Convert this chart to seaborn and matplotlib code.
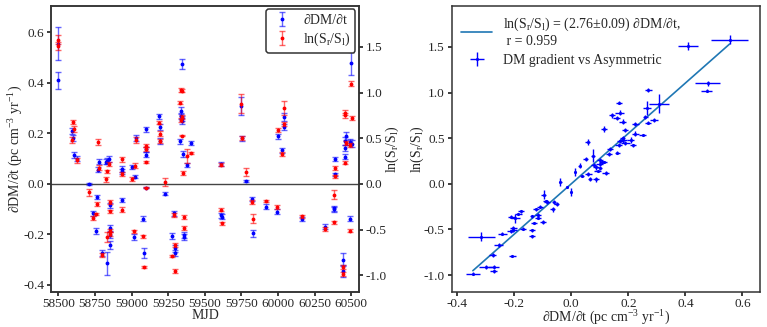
import numpy as np
import pandas as pd
import matplotlib
matplotlib.use("Agg")
import matplotlib.pyplot as plt
import seaborn as sns

# ---- data ----
mjd = [58497, 58500, 58591, 58600, 58605, 58630, 58711, 58734, 58757, 58766,
       58768, 58780, 58800, 58825, 58830, 58832, 58848, 58850, 58852, 58853,
       58855, 58935, 58937, 58937, 59005, 59018, 59020, 59030, 59080, 59082,
       59095, 59096, 59098, 59100, 59190, 59192, 59195, 59228, 59273, 59290,
       59295, 59297, 59333, 59335, 59340, 59342, 59345, 59346, 59350, 59357,
       59358, 59375, 59403, 59610, 59612, 59618, 59745, 59752, 59780, 59825,
       59828, 59916, 59993, 60000, 60030, 60039, 60043, 60160, 60323, 60383,
       60385, 60387, 60388, 60443, 60446, 60455, 60457, 60460, 60462, 60488,
       60490, 60500, 60503]
dm = [0.555, 0.41, 0.208, 0.18, 0.115, 0.10, 0.0, -0.117, -0.186, -0.051,
      0.057, 0.087, -0.275, 0.087, 0.092, -0.315, 0.10, -0.085, -0.176, -0.203,
      -0.242, 0.06, 0.05, -0.065, 0.066, -0.212, 0.029, 0.182, -0.137, -0.272,
      0.216, 0.137, 0.116, -0.015, 0.268, 0.225, 0.17, -0.038, -0.207, -0.117,
      -0.255, -0.272, 0.168, 0.27, 0.29, 0.26, 0.475, 0.25, 0.12, -0.203,
      -0.21, 0.076, 0.162, 0.078, -0.124, -0.13, 0.308, 0.18, 0.012, -0.06,
      -0.196, -0.09, -0.11, 0.188, 0.133, 0.225, 0.265, -0.137, -0.17, -0.097,
      -0.10, 0.10, 0.038, -0.30, -0.345, 0.17, 0.143, 0.107, 0.19, -0.137,
      0.166, 0.478, 0.16]
dm_err = [0.065, 0.035, 0.012, 0.012, 0.012, 0.01, 0.004, 0.01, 0.012, 0.008,
          0.01, 0.01, 0.012, 0.01, 0.012, 0.046, 0.012, 0.01, 0.012, 0.012,
          0.015, 0.012, 0.01, 0.008, 0.008, 0.012, 0.006, 0.012, 0.01, 0.02,
          0.01, 0.01, 0.01, 0.003, 0.01, 0.012, 0.01, 0.005, 0.012, 0.01,
          0.015, 0.012, 0.01, 0.012, 0.015, 0.01, 0.02, 0.012, 0.012, 0.012,
          0.012, 0.008, 0.008, 0.008, 0.01, 0.01, 0.035, 0.01, 0.004, 0.008,
          0.015, 0.01, 0.01, 0.01, 0.01, 0.012, 0.015, 0.008, 0.01, 0.01,
          0.01, 0.008, 0.006, 0.025, 0.025, 0.015, 0.012, 0.01, 0.015, 0.01,
          0.012, 0.045, 0.012]
lnr = [1.58, 1.51, 0.48, 0.68, 0.60, 0.26, -0.09, -0.37, -0.33, -0.22,
       0.46, 0.18, -0.78, 0.05, 0.14, -0.58, 0.22, -0.20, -0.30, -0.51,
       -0.545, 0.11, 0.27, -0.28, 0.055, -0.52, 0.20, 0.48, -0.575, -0.91,
       0.42, 0.38, 0.24, -0.04, 0.67, 0.55, 0.47, 0.02, -0.79, -0.34,
       -0.67, -0.955, 0.89, 1.03, 0.70, 0.735, 1.02, 0.53, 0.12, -0.48,
       -0.36, 0.31, 0.34, 0.21, -0.28, -0.43, 0.88, 0.505, 0.13, -0.20,
       -0.38, -0.19, -0.25, 0.59, 0.326, 0.655, 0.83, -0.355, -0.49, -0.12,
       -0.42, 0.175, 0.085, -0.91, -0.985, 0.78, 0.75, 0.234, 0.45, -0.51,
       0.425, 1.10, 0.72]
lnr_err = [0.05, 0.04, 0.03, 0.025, 0.035, 0.025, 0.04, 0.02, 0.015, 0.02,
           0.03, 0.025, 0.02, 0.03, 0.015, 0.05, 0.02, 0.02, 0.015, 0.02,
           0.02, 0.02, 0.025, 0.025, 0.02, 0.015, 0.025, 0.03, 0.015, 0.015,
           0.015, 0.02, 0.01, 0.005, 0.015, 0.025, 0.02, 0.045, 0.015, 0.02,
           0.025, 0.025, 0.015, 0.02, 0.02, 0.02, 0.015, 0.01, 0.02, 0.02,
           0.02, 0.075, 0.015, 0.015, 0.02, 0.015, 0.10, 0.02, 0.045, 0.02,
           0.05, 0.01, 0.02, 0.02, 0.025, 0.02, 0.08, 0.015, 0.02, 0.05,
           0.02, 0.02, 0.015, 0.02, 0.02, 0.03, 0.03, 0.02, 0.02, 0.015,
           0.02, 0.03, 0.02]
fit_slope = 2.76
fit_label = "ln(S$_\\mathrm{r}$/S$_\\mathrm{l}$) = (2.76\u00b10.09) \u2202DM/\u2202t,\n r = 0.959"

df = pd.DataFrame(dict(mjd=mjd, dm=dm, dm_err=dm_err, lnr=lnr, lnr_err=lnr_err))

# ---- style ----
sns.set_theme(style="ticks")
plt.rcParams.update({
    "font.family": ["Liberation Serif", "DejaVu Serif"],
    "mathtext.fontset": "custom",
    "mathtext.rm": "Liberation Serif",
    "mathtext.it": "Liberation Serif:italic",
    "mathtext.bf": "Liberation Serif:bold",
    "axes.unicode_minus": False,
    "font.size": 10,
    "axes.labelsize": 10,
    "xtick.labelsize": 9.5,
    "ytick.labelsize": 9.5,
    "axes.edgecolor": "#333333",
    "axes.linewidth": 1.1,
    "xtick.major.size": 3,
    "ytick.major.size": 3,
    "xtick.major.pad": 1.5,
    "ytick.major.pad": 2,
})

fig = plt.figure(figsize=(7.67, 3.27), dpi=100)
ax = fig.add_axes([0.0665, 0.107, 0.4015, 0.875])
ax2 = ax.twinx()
axr = fig.add_axes([0.589, 0.107, 0.402, 0.875])

lab_dm = "\u2202DM/\u2202t (pc cm$^{-3}$ yr$^{-1}$)"
lab_ln = "ln(S$_\\mathrm{r}$/S$_\\mathrm{l}$)"

# ---- left panel ----
ax.axhline(0, color="#444444", lw=1.0, zorder=1)
h1 = ax.errorbar(df.mjd, df.dm, yerr=df.dm_err, fmt=".", color="blue", ms=3.5,
                 ecolor=(0, 0, 1, 0.6), elinewidth=1, capsize=2.2, capthick=1,
                 label="\u2202DM/\u2202t", zorder=3)
h2 = ax2.errorbar(df.mjd, df.lnr, yerr=df.lnr_err, fmt=".", color="red", ms=3.5,
                  ecolor=(1, 0, 0, 0.6), elinewidth=1, capsize=2.2, capthick=1,
                  label=lab_ln, zorder=3)
ax.set_xlim(58450, 60552)
ax.set_ylim(-0.428, 0.705)
ax2.set_ylim(-1.183, 1.95)
ax.set_xticks(np.arange(58500, 60501, 250))
ax.set_yticks(np.arange(-0.4, 0.61, 0.2))
ax2.set_yticks([-1.0, -0.5, 0.0, 0.5, 1.0, 1.5])
ax.yaxis.set_major_formatter(matplotlib.ticker.FormatStrFormatter("%.1f"))
ax2.yaxis.set_major_formatter(matplotlib.ticker.FormatStrFormatter("%.1f"))
ax.set_xlabel("MJD")
ax.set_ylabel(lab_dm)
ax2.set_ylabel(lab_ln)
ax.xaxis.set_label_coords(0.5, -0.06)
ax.yaxis.set_label_coords(-0.085, 0.5)
ax2.yaxis.set_label_coords(1.081, 0.5)
leg = ax2.legend(handles=[h1, h2], loc="upper right", frameon=True, fancybox=True,
                 edgecolor="#333333", framealpha=1, fontsize=10, handlelength=1.5,
                 borderpad=0.35, labelspacing=0.25, borderaxespad=0.25)
leg.get_frame().set_linewidth(1.1)

# ---- right panel ----
axr.errorbar(df.dm, df.lnr, xerr=df.dm_err, yerr=df.lnr_err, fmt=".", color="blue",
             ms=2.5, elinewidth=1, capsize=0, label="DM gradient vs Asymmetric",
             zorder=3)
xfit = np.array([df.dm.min(), df.dm.max()])
fit_df = pd.DataFrame(dict(x=xfit, y=fit_slope * xfit))
sns.lineplot(data=fit_df, x="x", y="y", ax=axr, color="#1f77b4", lw=1.2,
             label=fit_label, zorder=2)
axr.set_xlim(-0.419, 0.662)
axr.set_ylim(-1.186, 1.95)
axr.set_xticks(np.arange(-0.4, 0.61, 0.2))
axr.set_yticks([-1.0, -0.5, 0.0, 0.5, 1.0, 1.5])
axr.xaxis.set_major_formatter(matplotlib.ticker.FormatStrFormatter("%.1f"))
axr.yaxis.set_major_formatter(matplotlib.ticker.FormatStrFormatter("%.1f"))
axr.set_xlabel(lab_dm)
axr.set_ylabel(lab_ln)
axr.xaxis.set_label_coords(0.5, -0.06)
axr.yaxis.set_label_coords(-0.084, 0.5)
hs, ls = axr.get_legend_handles_labels()
order = [ls.index(fit_label), ls.index("DM gradient vs Asymmetric")]
axr.legend([hs[i] for i in order], [ls[i] for i in order], loc="upper left",
           frameon=False, fontsize=10, handlelength=2.2, borderaxespad=0.3,
           labelspacing=0.4)

fig.savefig("out.png", dpi=100)
